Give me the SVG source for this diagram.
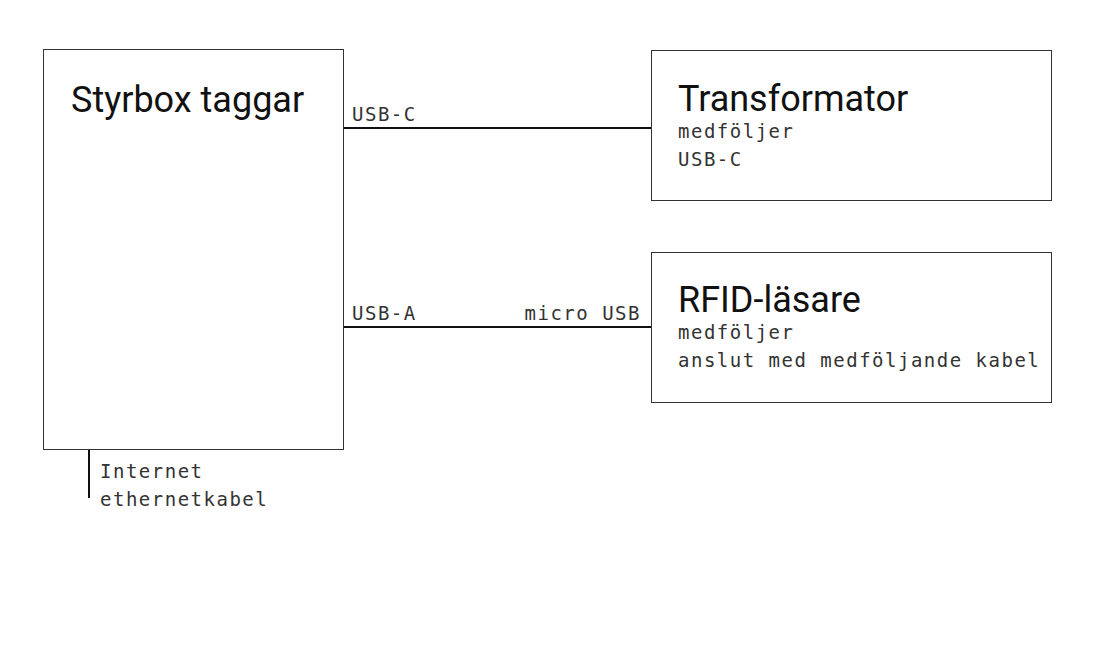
<svg xmlns="http://www.w3.org/2000/svg" width="1094" height="660" viewBox="0 0 1094 660">
<style>
.box{fill:#fff;stroke:#333;stroke-width:1}
.t{font-family:Roboto,"Liberation Sans",sans-serif;font-size:36px;fill:#111}
.m{font-family:"DejaVu Sans Mono","Liberation Mono",monospace;font-size:19px;fill:#333;letter-spacing:1.5px}
.c{stroke:#111;stroke-width:2;fill:none}
</style>
<rect width="1094" height="660" fill="#fff"/>
<g id="connectors">
<line class="c" x1="344" y1="128" x2="651" y2="128"/>
<line class="c" x1="344" y1="327" x2="651" y2="327"/>
<line class="c" x1="89" y1="450" x2="89" y2="498"/>
<text class="m" x="352" y="121">USB-C</text>
<text class="m" x="352" y="320">USB-A</text>
<text class="m" x="641" y="320" text-anchor="end">micro USB</text>
<text class="m" x="100" y="478">Internet</text>
<text class="m" x="100" y="506">ethernetkabel</text>
</g>
<g id="styrbox">
<rect class="box" x="43.5" y="49.5" width="300" height="400"/>
<text class="t" x="71" y="112">Styrbox taggar</text>
</g>
<g id="transformator">
<rect class="box" x="651.5" y="50.5" width="400" height="150"/>
<text class="t" x="678" y="111">Transformator</text>
<text class="m" x="678" y="138">medföljer</text>
<text class="m" x="678" y="166">USB-C</text>
</g>
<g id="rfid">
<rect class="box" x="651.5" y="252.5" width="400" height="150"/>
<text class="t" x="678" y="312">RFID-läsare</text>
<text class="m" x="678" y="339">medföljer</text>
<text class="m" x="678" y="367">anslut med medföljande kabel</text>
</g>
</svg>
